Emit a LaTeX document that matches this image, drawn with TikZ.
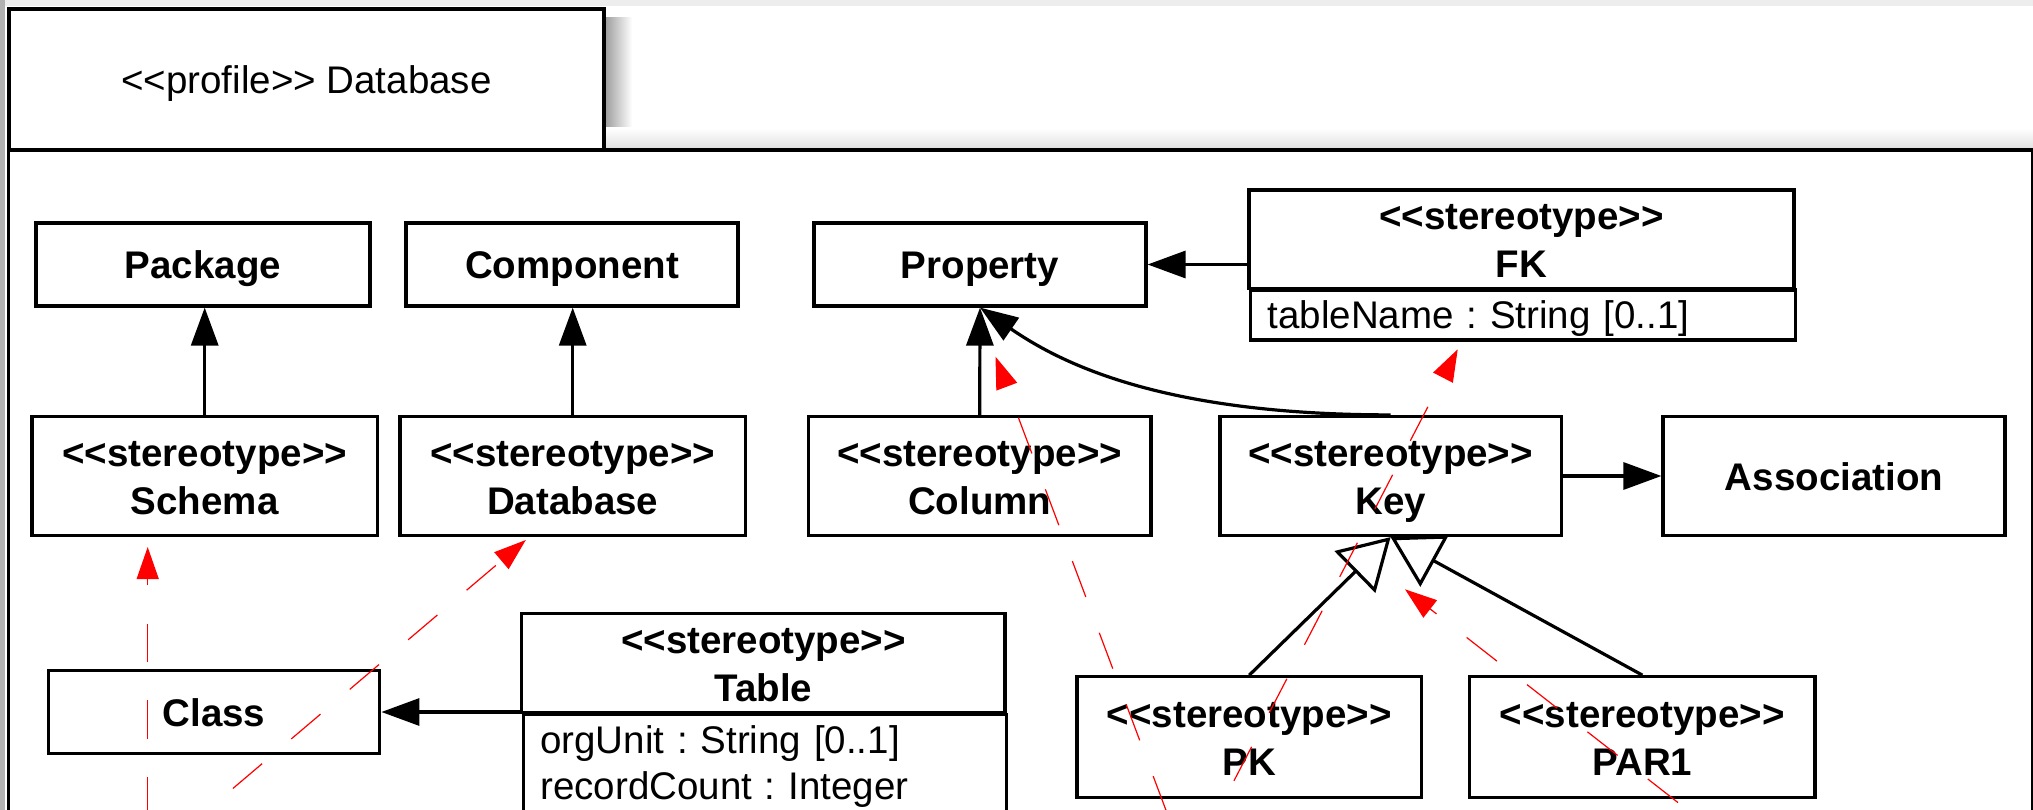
\documentclass[tikz,border=0pt]{standalone}
\usepackage{fontspec}
\setmainfont{Liberation Sans}[Ligatures=TeXOff]
\usetikzlibrary{arrows.meta}
\frenchspacing

% fixed line metrics so every label line sits on the same grid
\newcommand\umlstrut{\vrule width 0pt height 36pt depth 8pt}
\newcommand\umlstereo[1]{\umlstrut<<stereotype>>\\\umlstrut #1}

\tikzset{
  umlbox/.style={draw=black, line width=3.2pt, fill=white, inner sep=0pt, align=center,
    font=\fontsize{38.5pt}{48pt}\selectfont\bfseries},
  attrbox/.style={draw=black, line width=3.2pt, fill=white, inner xsep=17pt, inner ysep=3pt,
    align=left, anchor=north west, font=\fontsize{38.5pt}{46.6pt}\selectfont},
  tabbox/.style={draw=black, line width=3.2pt, fill=white, inner sep=0pt, align=center,
    font=\fontsize{38.5pt}{48pt}\selectfont},
  frameline/.style={draw=black, line width=3.2pt},
  extends/.style={line width=3.2pt, -{Triangle[length=38pt,width=27pt]}},
  generalizes/.style={line width=3.2pt, -{Triangle[open,length=50pt,width=58pt]}},
  trace/.style={draw=red, line width=1.2pt, dash pattern=on 38.3pt off 38.3pt,
    -{Triangle[length=32pt,width=22pt]}},
}

\begin{document}
\begin{tikzpicture}[x=1pt, y=-1pt]
\useasboundingbox (0,0) rectangle (2033,810);
\clip (0,0) rectangle (2033,810);

% page background and soft edges
\fill[white] (0,0) rectangle (2033,810);
\fill[black!7] (0,0) rectangle (2033,6);
\fill[black!30] (0,0) rectangle (5,810);
\shade[left color=black!40, right color=white] (604,18) rectangle (632,149);
\shade[top color=white, bottom color=black!12] (604,128) rectangle (2033,149);

% profile package frame with its name tab
\draw[frameline] (8.5,150) rectangle (2032.5,900);
\node[tabbox, minimum width=595pt, minimum height=141pt] (tab) at (306.5,79.5)
  {\umlstrut <<profile>> Database};

% metaclasses
\node[umlbox, minimum width=334pt, minimum height=83pt] (package) at (203,264.5) {\umlstrut Package};
\node[umlbox, minimum width=332pt, minimum height=83pt] (component) at (572,264.5) {\umlstrut Component};
\node[umlbox, minimum width=332pt, minimum height=83pt] (prop) at (980,264.5) {\umlstrut Property};
\node[umlbox, minimum width=342pt, minimum height=119pt] (assoc) at (1834,476) {\umlstrut Association};
\node[umlbox, minimum width=331.6pt, minimum height=82.3pt] (classnode) at (214,712) {\umlstrut Class};

% stereotypes
\node[umlbox, minimum width=545pt, minimum height=98.3pt] (fkhead) at (1521.5,239.2) {\umlstereo{FK}};
\node[attrbox, text width=511pt] (fkattr) at (1249,288.3) {\umlstrut tableName : String [0..1]};

\node[umlbox, minimum width=345.5pt, minimum height=119pt] (schema) at (204.7,476) {\umlstereo{Schema}};
\node[umlbox, minimum width=345.5pt, minimum height=119pt] (database) at (572.7,476) {\umlstereo{Database}};
\node[umlbox, minimum width=342.6pt, minimum height=119pt] (column) at (979.7,476) {\umlstereo{Column}};
\node[umlbox, minimum width=341.3pt, minimum height=119pt] (key) at (1390.6,476) {\umlstereo{Key}};

\node[umlbox, minimum width=483.3pt, minimum height=99.4pt] (tablehead) at (763.4,663) {\umlstereo{Table}};
\node[attrbox, text width=449.3pt] (tableattr) at (521.7,712.7)
  {\umlstrut orgUnit : String [0..1]\\\vrule width 0pt height 36pt depth 40pt recordCount : Integer};

\node[umlbox, minimum width=344.6pt, minimum height=120.6pt] (pk) at (1249.3,737) {\umlstereo{PK}};
\node[umlbox, minimum width=345.3pt, minimum height=120.6pt] (par1) at (1642.3,737) {\umlstereo{PAR1}};

% extensions
\draw[extends] (schema.north) -- (schema.north |- package.south);
\draw[extends] (database.north) -- (database.north |- component.south);
\draw[extends] (column.north) -- (prop.south);
\draw[extends] (key.north) .. controls +(-230,0) and +(80,55) .. (prop.south);
\draw[extends] (fkhead.west |- prop.east) -- (prop.east);
\draw[extends] (key.east) -- (assoc.west);
\draw[extends] (tablehead.west |- classnode.east) -- (classnode.east);

% generalizations
\draw[generalizes] (pk.north) -- (key.south);
\draw[generalizes] (par1.north) -- (key.south);

% dashed red traces
\coordinate (s1) at (147.7,891.7);  \coordinate (t1) at (147.7,547);
\coordinate (s2) at (174.5,838);    \coordinate (t2) at (525.8,540);
\coordinate (s3) at (1193.6,883.7); \coordinate (t3) at (995.5,356.7);
\coordinate (s4) at (1198.7,848.8); \coordinate (t4) at (1457.7,349.3);
\coordinate (s5) at (1738.3,849.7); \coordinate (t5) at (1405,589.3);
\draw[trace] (s1) -- (t1);
\draw[trace] (s2) -- (t2);
\draw[trace] (s3) -- (t3);
\draw[trace] (s4) -- (t4);
\draw[trace] (s5) -- (t5);
\end{tikzpicture}
\end{document}
